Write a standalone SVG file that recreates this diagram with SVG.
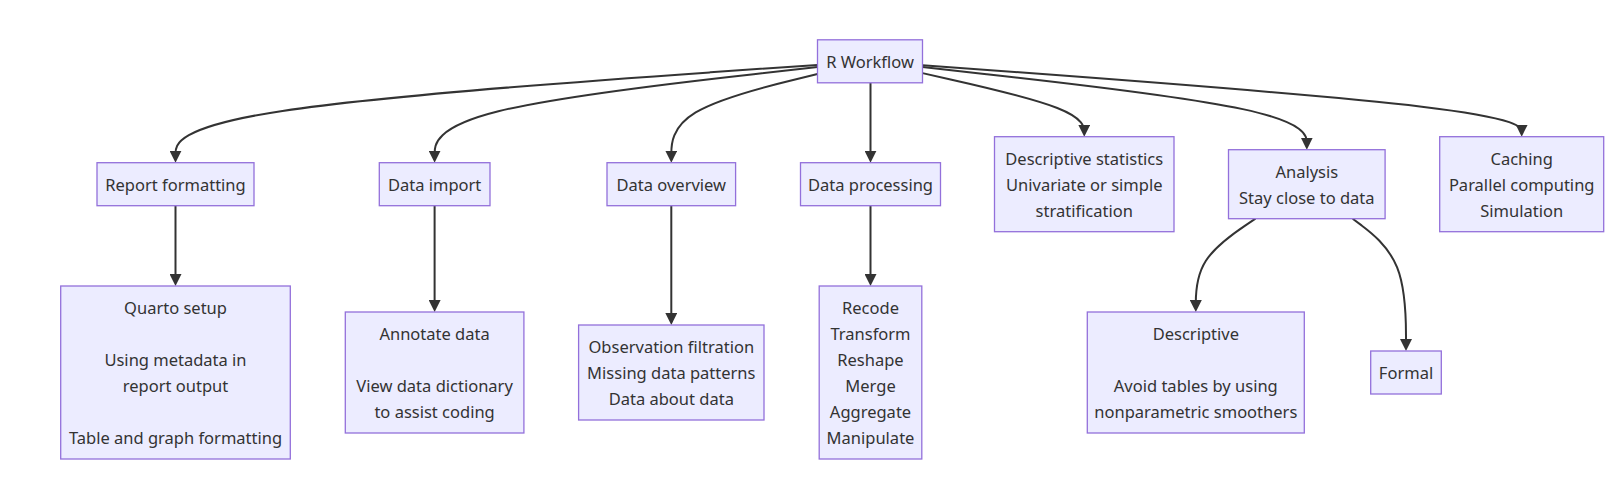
<svg xmlns="http://www.w3.org/2000/svg" width="1616" height="490" viewBox="0 0 1616 490">
<style>
.node rect{fill:#ECECFF;stroke:#9370DB;stroke-width:1.3px;}
.node text{font-family:"Noto Sans","Open Sans",sans-serif;font-size:16.5px;fill:#333333;text-anchor:middle;dominant-baseline:central;}
.edge{fill:none;stroke:#333333;stroke-width:2px;marker-end:url(#arrow);}
</style>
<defs>
<marker id="arrow" viewBox="0 0 12 12" markerWidth="12" markerHeight="12" markerUnits="userSpaceOnUse" refX="9" refY="6" orient="auto">
<path d="M0,0 L12,6 L0,12 z" fill="#333333"/>
</marker>
</defs>
<rect width="1616" height="490" fill="#ffffff"/>
<g id="edges">
<path class="edge" d="M817.5,64.9 L710.5,72.33 C603.5,79.77 389.5,94.63 282.5,110.93 C175.5,127.23 175.5,144.97 175.5,153.83 L175.5,159.7"/>
<path class="edge" d="M817.5,67.11 L753.68,74.18 C689.87,81.24 562.23,95.37 498.42,111.3 C434.6,127.23 434.6,144.97 434.6,153.83 L434.6,159.7"/>
<path class="edge" d="M817.5,74.04 L793.13,79.95 C768.77,85.86 720.03,97.68 695.67,112.46 C671.3,127.23 671.3,144.97 671.3,153.83 L671.3,159.7"/>
<path class="edge" d="M870.5,82.8 L870.5,159.7"/>
<path class="edge" d="M922.5,73.11 L949.46,79.18 C976.42,85.24 1030.33,97.37 1057.29,107.97 C1084.25,118.57 1084.25,127.63 1084.25,132.17 L1084.25,133.7"/>
<path class="edge" d="M922.5,67.09 L986.55,74.16 C1050.6,81.23 1178.7,95.36 1242.75,109.13 C1306.8,122.9 1306.8,136.3 1306.8,143 L1306.8,146.7"/>
<path class="edge" d="M922.5,65.18 L1022.37,72.57 C1122.23,79.95 1321.97,94.73 1421.83,106.65 C1521.7,118.57 1521.7,127.63 1521.7,132.17 L1521.7,133.7"/>
<path class="edge" d="M175.5,205.7 L175.5,283"/>
<path class="edge" d="M434.6,205.7 L434.6,309"/>
<path class="edge" d="M671.3,205.7 L671.3,322"/>
<path class="edge" d="M870.5,205.7 L870.5,283"/>
<path class="edge" d="M1255.47,218.7 L1245.53,225.38 C1235.58,232.07 1215.69,245.43 1205.75,260.98 C1195.8,276.53 1195.8,294.27 1195.8,303.13 L1195.8,309"/>
<path class="edge" d="M1352.68,218.7 L1361.57,225.38 C1370.45,232.07 1388.23,245.43 1397.11,267.48 C1406,289.53 1406,320.27 1406,335.63 L1406,348"/>
</g>
<g id="n-root" class="node"><rect x="817.5" y="39.8" width="105" height="43"/><text x="870" y="61.3">R Workflow</text></g>
<g id="n-report" class="node"><rect x="97" y="162.7" width="157" height="43"/><text x="175.5" y="184.2">Report formatting</text></g>
<g id="n-import" class="node"><rect x="379.3" y="162.7" width="110.7" height="43"/><text x="434.6" y="184.2">Data import</text></g>
<g id="n-overview" class="node"><rect x="607" y="162.7" width="128.6" height="43"/><text x="671.3" y="184.2">Data overview</text></g>
<g id="n-processing" class="node"><rect x="800.5" y="162.7" width="140" height="43"/><text x="870.5" y="184.2">Data processing</text></g>
<g id="n-descstats" class="node"><rect x="994.5" y="136.7" width="179.5" height="95"/><text x="1084.25" y="158.2">Descriptive statistics</text><text x="1084.25" y="184.2">Univariate or simple</text><text x="1084.25" y="210.2">stratification</text></g>
<g id="n-analysis" class="node"><rect x="1228.5" y="149.7" width="156.6" height="69"/><text x="1306.8" y="171.2">Analysis</text><text x="1306.8" y="197.2">Stay close to data</text></g>
<g id="n-caching" class="node"><rect x="1439.7" y="136.7" width="164" height="95"/><text x="1521.7" y="158.2">Caching</text><text x="1521.7" y="184.2">Parallel computing</text><text x="1521.7" y="210.2">Simulation</text></g>
<g id="n-quarto" class="node"><rect x="60.7" y="286" width="229.6" height="173"/><text x="175.5" y="307.5">Quarto setup</text><text x="175.5" y="359.5">Using metadata in</text><text x="175.5" y="385.5">report output</text><text x="175.5" y="437.5">Table and graph formatting</text></g>
<g id="n-annotate" class="node"><rect x="345.3" y="312" width="178.6" height="121"/><text x="434.6" y="333.5">Annotate data</text><text x="434.6" y="385.5">View data dictionary</text><text x="434.6" y="411.5">to assist coding</text></g>
<g id="n-observation" class="node"><rect x="578.6" y="325" width="185.4" height="95"/><text x="671.3" y="346.5">Observation filtration</text><text x="671.3" y="372.5">Missing data patterns</text><text x="671.3" y="398.5">Data about data</text></g>
<g id="n-recode" class="node"><rect x="819.2" y="286" width="102.6" height="173"/><text x="870.5" y="307.5">Recode</text><text x="870.5" y="333.5">Transform</text><text x="870.5" y="359.5">Reshape</text><text x="870.5" y="385.5">Merge</text><text x="870.5" y="411.5">Aggregate</text><text x="870.5" y="437.5">Manipulate</text></g>
<g id="n-descriptive" class="node"><rect x="1087.3" y="312" width="217" height="121"/><text x="1195.8" y="333.5">Descriptive</text><text x="1195.8" y="385.5">Avoid tables by using</text><text x="1195.8" y="411.5">nonparametric smoothers</text></g>
<g id="n-formal" class="node"><rect x="1370.7" y="351" width="70.6" height="43"/><text x="1406" y="372.5">Formal</text></g>
</svg>
